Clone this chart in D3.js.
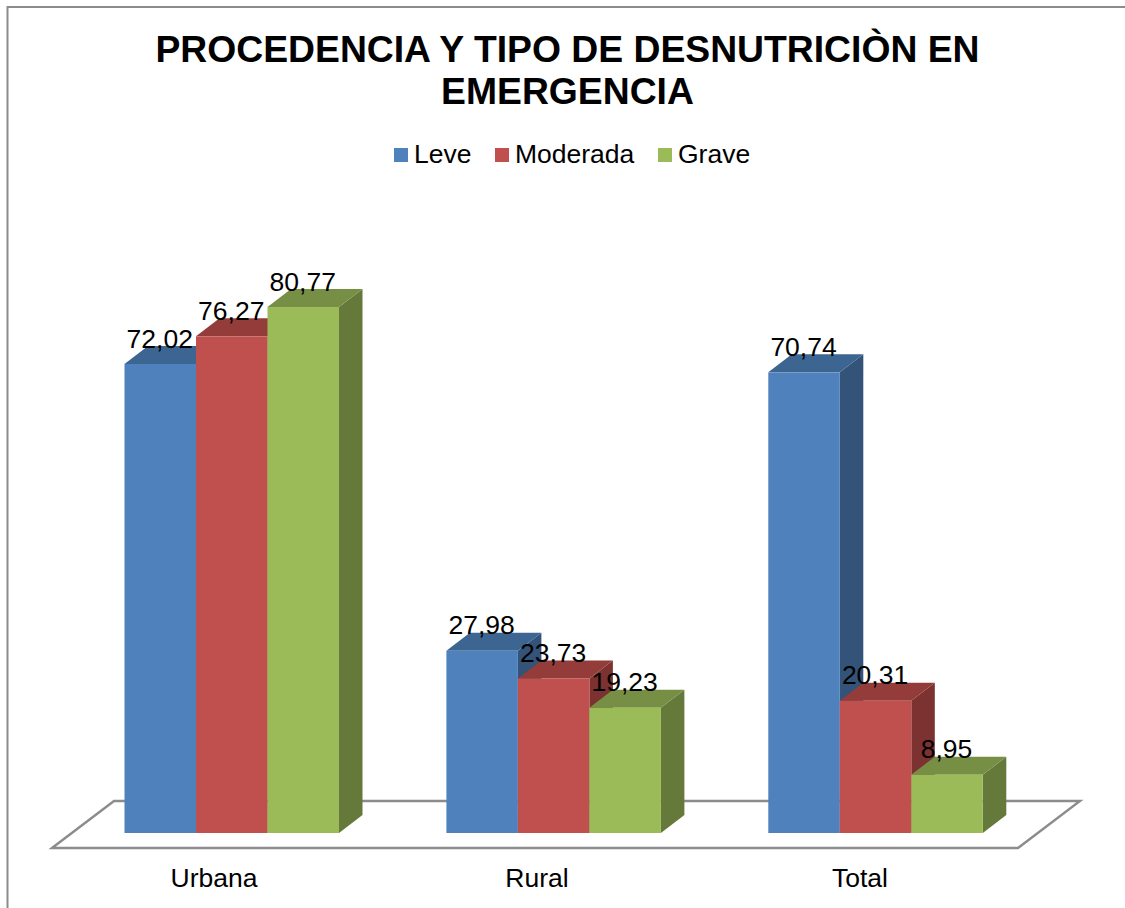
<!DOCTYPE html>
<html><head><meta charset="utf-8">
<script src="https://cdn.jsdelivr.net/npm/d3@7/dist/d3.min.js"></script>
<style>html,body{margin:0;padding:0;background:#fff}svg{display:block}text{font-family:"Liberation Sans",Arial,sans-serif;fill:#000}</style>
</head><body><svg id="c" width="1125" height="908"></svg>
<script>
const categories = ["Urbana","Rural","Total"];
const seriesNames = ["Leve","Moderada","Grave"];
const leve = [72.02,27.98,70.74];
const moderada = [76.27,23.73,20.31];
const grave = [80.77,19.23,8.95];
const seriesValues = [leve,moderada,grave];
const labelText = [["72,02","27,98","70,74"],["76,27","23,73","20,31"],["80,77","19,23","8,95"]];
const titleLines = ["PROCEDENCIA Y TIPO DE DESNUTRICIÒN EN","EMERGENCIA"];
const front = ["#4f81bd","#c0504d","#9bbb59"];
const topFace = ["#3d6592","#943c3a","#778f45"];
const side = ["#335379","#7b3230","#64793a"];

const svg = d3.select("#c");
const baseY = 833, dx = 23.5, dy = 18;
const x0 = d3.scaleBand().domain(categories).range([70.8,1036.5]);
const x1 = d3.scaleBand().domain(seriesNames).range([0,214.5]);
const pad = (x0.bandwidth()-x1.range()[1])/2;
const y = d3.scaleLinear().domain([0,100]).range([baseY,baseY-651.2]);

// frame
svg.append("path").attr("d","M7.5,908V7H1125").attr("fill","none").attr("stroke","#8c8c8c").attr("stroke-width",2);
// floor
svg.append("path").attr("d","M52,848L114,801H1080L1018,848Z").attr("fill","#fff").attr("stroke","#8c8c8c").attr("stroke-width",2.4).attr("stroke-linejoin","miter");

// bars
const bars=[];
categories.forEach((c,ci)=>seriesNames.forEach((s,si)=>{bars.push({c,s,si,ci,v:seriesValues[si][ci],label:labelText[si][ci]});}));
const g = svg.append("g");
bars.forEach(d=>{
  const xl = x0(d.c)+pad+x1(d.s), w = x1.bandwidth(), xr = xl+w, t = y(d.v);
  g.append("path").attr("d",`M${xr},${t}L${xr+dx},${t-dy}V${baseY-dy}L${xr},${baseY}Z`).attr("fill",side[d.si]);
  g.append("path").attr("d",`M${xl},${t}L${xl+dx},${t-dy}H${xr+dx}L${xr},${t}Z`).attr("fill",topFace[d.si]);
  g.append("rect").attr("x",xl).attr("y",t).attr("width",w).attr("height",baseY-t).attr("fill",front[d.si]);
});
// data labels
bars.forEach(d=>{
  svg.append("text").attr("x",x0(d.c)+pad+x1(d.s)+x1.bandwidth()/2-0.5).attr("y",y(d.v)-16.5)
    .attr("text-anchor","middle").attr("font-size",26.5).text(d.label);
});
// axis labels
const axis = d3.axisBottom(d3.scaleBand().domain(categories).range([52.5,1021.5])).tickSize(0).tickPadding(0);
const ag = svg.append("g").attr("transform","translate(0,866)").call(axis);
ag.select(".domain").remove();
ag.selectAll("text").attr("font-size",26.5).attr("font-family",'"Liberation Sans",Arial,sans-serif').attr("dy",0).attr("y",21);

// title
svg.selectAll("text.t").data(titleLines).enter().append("text").attr("class","t")
 .attr("x",567.5).attr("y",(d,i)=>62+i*42).attr("text-anchor","middle").attr("font-weight","bold").attr("font-size",37.3).text(d=>d);

// legend
const lx=[394,495,658], tx=[414,515,678];
seriesNames.forEach((s,i)=>{
  svg.append("rect").attr("x",lx[i]).attr("y",148).attr("width",14).attr("height",14).attr("fill",front[i]);
  svg.append("text").attr("x",tx[i]).attr("y",163).attr("font-size",26.5).text(s);
});
</script></body></html>
